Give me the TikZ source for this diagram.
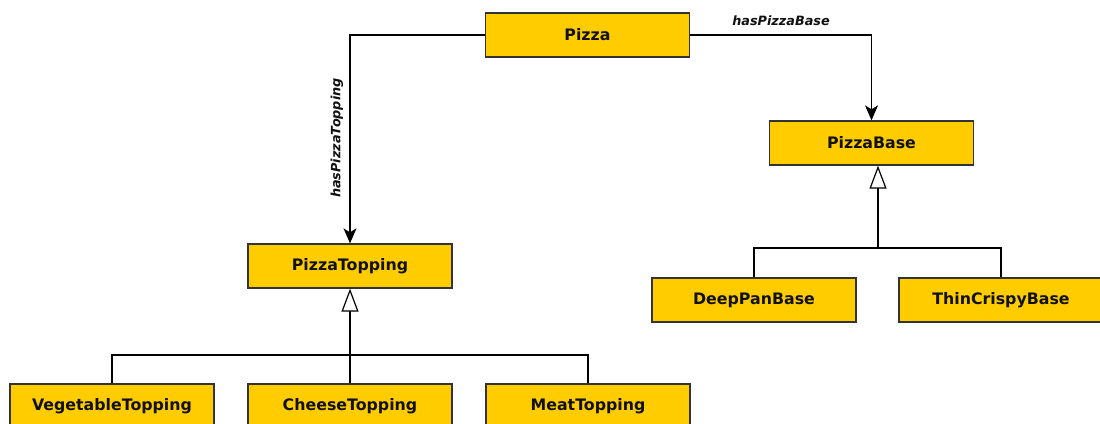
\documentclass[tikz,border=0pt]{standalone}
\usepackage{fontspec}
\setmainfont{DejaVu Sans}
\usetikzlibrary{arrows.meta}
\definecolor{boxfill}{HTML}{FFCC00}
\definecolor{boxline}{HTML}{333333}
\definecolor{txt}{HTML}{111111}
\tikzset{
  cls/.style={draw=boxline, fill=boxfill, line width=1.3pt, minimum width=204pt, minimum height=44pt, inner sep=0pt, text=txt, font=\fontsize{15.8}{18}\selectfont\bfseries},
  rel/.style={draw=black, line width=1.2pt, -{Stealth[length=15pt,width=13pt,inset=4pt]}},
  gen/.style={draw=black, line width=1.2pt, -{Triangle[open,length=23pt,width=17pt,fill=white]}},
  bar/.style={draw=black, line width=1.2pt},
  lbl/.style={font=\fontsize{12.8}{15}\selectfont\bfseries\itshape, text=txt, inner sep=0pt}
}
\begin{document}
\begin{tikzpicture}[x=1pt,y=-1pt]
\useasboundingbox (0,0) rectangle (1100,423);
\node[cls] (pizza) at (587.5,35) {Pizza};
\node[cls] (pbase) at (871.5,143) {PizzaBase};
\node[cls] (ptop) at (350,266) {PizzaTopping};
\node[cls] (deep) at (754,300) {DeepPanBase};
\node[cls] (thin) at (1001,300) {ThinCrispyBase};
\node[cls] (veg) at (112,406) {VegetableTopping};
\node[cls] (cheese) at (350,406) {CheeseTopping};
\node[cls] (meat) at (588,406) {MeatTopping};
\coordinate (tbar) at (350,355);
\coordinate (bbar) at (878,248);
\draw[rel] (pizza.west) -| (ptop.north);
\draw[rel] (pizza.east) -| (pbase.north);
\node[lbl] (l1) at (781,21) {hasPizzaBase};
\node[lbl, rotate=90] (l2) at (337,138) {hasPizzaTopping};
\draw[bar] (veg.north) |- (tbar) -| (meat.north);
\draw[gen] (cheese.north) -- (ptop.south);
\draw[bar] (deep.north) |- (bbar) -| (thin.north);
\draw[gen] (bbar) -- (pbase.south -| bbar);
\end{tikzpicture}
\end{document}
